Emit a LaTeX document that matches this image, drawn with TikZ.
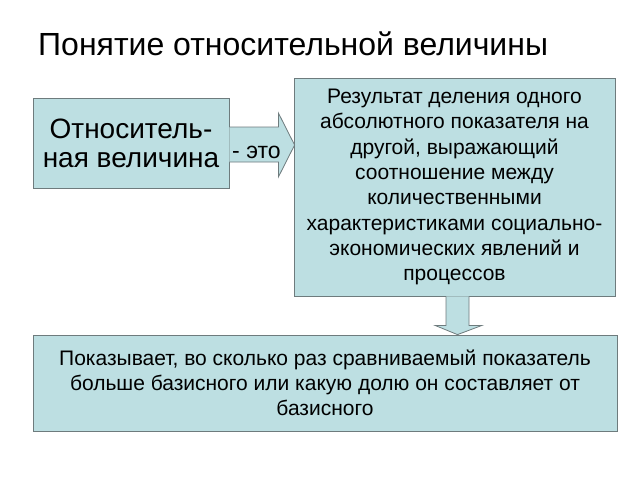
\documentclass[tikz,border=0pt]{standalone}
\usepackage{fontspec}
\setmainfont{Liberation Sans}
\usetikzlibrary{calc}
\definecolor{boxfill}{HTML}{BDDFE2}
\definecolor{boxline}{HTML}{6E7B7D}
\tikzset{
  infobox/.style={draw=boxline, fill=boxfill, line width=0.8pt, align=center, inner sep=2pt},
  blockarrow/.style={draw=boxline, fill=boxfill, line width=0.8pt, line join=miter}
}
\begin{document}
\begin{tikzpicture}[x=1pt,y=-1pt]
    \useasboundingbox (0,0) rectangle (640,480);
    % Title
    \node[anchor=base west, inner sep=0pt, font=\fontsize{32}{38}\selectfont] (title) at (38,55) {Понятие относительной величины};

    % Boxes
    \node[infobox, minimum width=196pt, minimum height=90pt, font=\fontsize{28}{29}\selectfont] (term) at (131,143)
        {Относитель-\\ная величина};
    \node[infobox, minimum width=321pt, minimum height=218pt, font=\fontsize{21}{25.3}\selectfont] (defn) at (454.5,187)
        {Результат деления одного\\абсолютного показателя на\\другой, выражающий\\соотношение между\\количественными\\характеристиками социально-\\экономических явлений и\\процессов};
    \node[infobox, minimum width=584pt, minimum height=96pt, font=\fontsize{21}{25}\selectfont] (shows) at (325,383)
        {Показывает, во сколько раз сравниваемый показатель\\больше базисного или какую долю он составляет от\\базисного};

    % Arrow term -> defn
    \coordinate (a1) at ($(term.east)+(0,-16)$);
    \coordinate (a2) at ($(term.east)+(0,19)$);
    \draw[blockarrow] (a1) -- ++(49,0) -- ++(0,-14) -- ($(defn.west)+(1,-42)$)
        -- ($(a2)+(49,15)$) -- ++(0,-15) -- (a2);
    \node[font=\fontsize{23}{26}\selectfont, inner sep=0pt, anchor=base] (isword) at ($(a1)!0.5!(a2)+(27,13.5)$) {- это};

    % Arrow defn -> shows
    \coordinate (b1) at ($(defn.south)+(-8.5,0)$);
    \coordinate (b2) at ($(defn.south)+(14.5,0)$);
    \draw[blockarrow] (b1) -- ++(0,29) -- ++(-11,0) -- ($(shows.north)+(132.5,0)$)
        -- ($(b2)+(13,29)$) -- ++(-13,0) -- (b2);
\end{tikzpicture}
\end{document}
